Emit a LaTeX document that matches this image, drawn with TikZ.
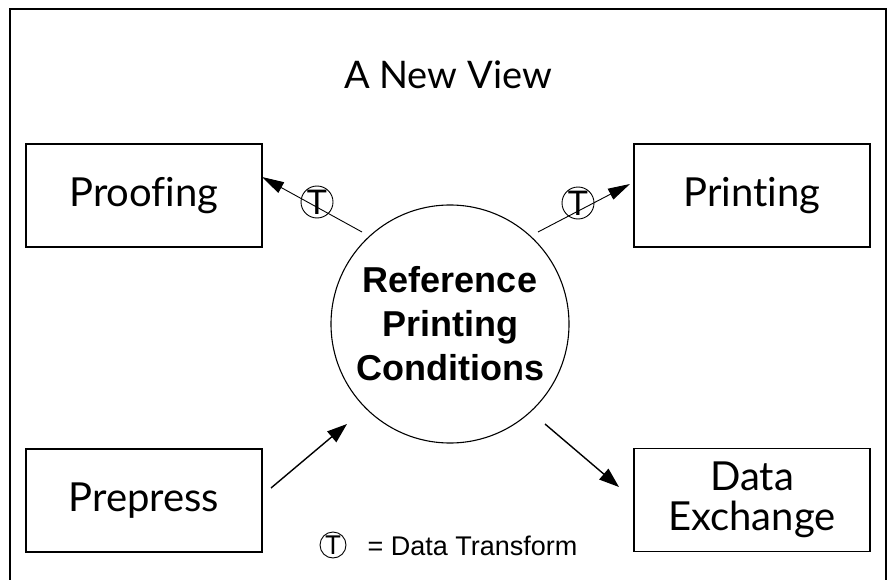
\documentclass[tikz,border=0pt]{standalone}
\usepackage{fontspec}
\setmainfont[Ligatures={NoCommon}]{Lato}
\newfontfamily\arialfont{Liberation Sans}
\usetikzlibrary{arrows.meta}
\tikzset{
  box/.style={draw, line width=1.1pt, minimum width=236pt, minimum height=103pt, inner sep=0pt, font=\fontsize{40}{40}\selectfont, align=center},
  hub/.style={draw, circle, line width=1.1pt, minimum size=238pt, inner sep=0pt, font=\arialfont\bfseries\fontsize{36}{44}\selectfont, align=center},
  tmark/.style={draw, circle, line width=0.9pt, minimum size=32pt, inner sep=0pt, font=\fontsize{34}{34}\selectfont},
  tlegend/.style={draw, circle, line width=0.9pt, minimum size=26pt, inner sep=0pt, font=\fontsize{26}{26}\selectfont},
  thin/.style={line width=0.9pt, -{Triangle[length=22pt,width=12pt]}},
  thick/.style={line width=1.4pt, -{Triangle[length=20pt,width=14pt]}}
}
\begin{document}
\begin{tikzpicture}[x=1pt,y=-1pt]
\useasboundingbox (0,0) rectangle (888,580);
\draw[line width=2pt] (10,590) -- (10,9) -- (886,9) -- (886,590);
\node[font=\fontsize{38}{44}\selectfont] (title) at (448,75) {A New View};
\node[box] (proof) at (144,195.5) {Proofing};
\node[box] (print) at (752,195.5) {Printing};
\node[box] (prep) at (144,500.5) {Prepress};
\node[box] (dx) at (752,500) {Data\\Exchange};
\node[hub] (ref) at (450,324) {Reference\\Printing\\Conditions};
\coordinate (a1s) at (362,232);
\coordinate (a1e) at (262,177);
\coordinate (a2s) at (538,232);
\coordinate (a2e) at (630,184);
\coordinate (a3s) at (271,488);
\coordinate (a3e) at (347,424);
\coordinate (a4s) at (545,424);
\coordinate (a4e) at (619,487);
\draw[thin] (a1s) -- (a1e);
\draw[thin] (a2s) -- (a2e);
\draw[thick] (a3s) -- (a3e);
\draw[thick] (a4s) -- (a4e);
\node[tmark] (t1) at (317,202) {T};
\node[tmark] (t2) at (578,203) {T};
\node[tlegend] (tl) at (333,545) {T};
\node[anchor=west, font=\arialfont\fontsize{27}{27}\selectfont] (legend) at (364,546) {= Data Transform};
\end{tikzpicture}
\end{document}
